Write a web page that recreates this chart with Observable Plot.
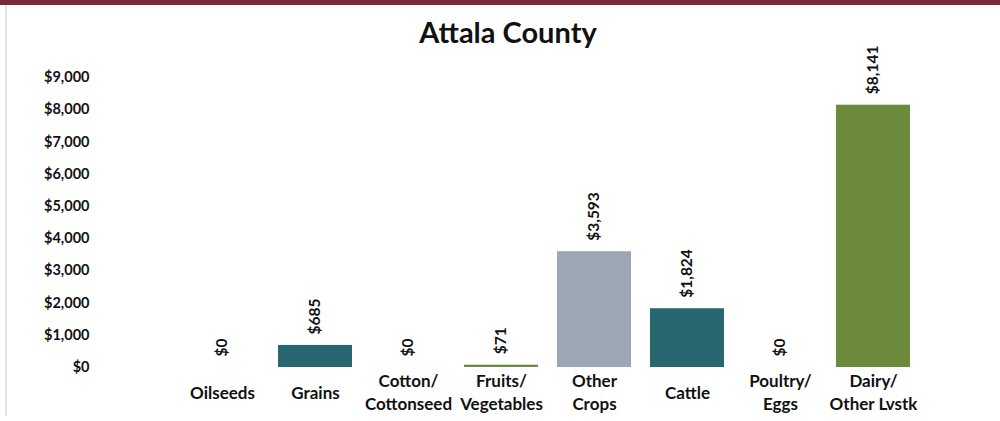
<!DOCTYPE html>
<html>
<head>
<meta charset="utf-8">
<script src="https://cdn.jsdelivr.net/npm/d3@7"></script>
<script src="https://cdn.jsdelivr.net/npm/@observablehq/plot@0.6"></script>
<style>
  html, body { margin: 0; padding: 0; background: #fff; }
  #wrap { position: relative; width: 1000px; height: 421px; overflow: hidden; }
  #topbar { position: absolute; left: 0; top: 0; width: 1000px; height: 5px; background: #7a2a3c; }
  #leftline { position: absolute; left: 5px; top: 5px; width: 2px; height: 411px; background: #e4e4e4; }
  #title { position: absolute; left: 0; top: 13px; width: 1016px; text-align: center;
           font-family: Lato, "Open Sans", sans-serif; font-weight: bold; font-size: 29px; color: #111; line-height: 38px; }
  #chart { position: absolute; left: 0; top: 55px; }
  #chart svg { overflow: visible; }
</style>
</head>
<body>
<div id="wrap">
  <div id="topbar"></div>
  <div id="leftline"></div>
  <div id="title">Attala County</div>
  <div id="chart"></div>
</div>
<script>
const categories = ["Oilseeds", "Grains", "Cotton/\nCottonseed", "Fruits/\nVegetables", "Other\nCrops", "Cattle", "Poultry/\nEggs", "Dairy/\nOther Lvstk"];
const values = [0, 685, 0, 71, 3593, 1824, 0, 8141];
const colors = ["#6b8a3c", "#28676f", "#6b8a3c", "#6b8a3c", "#9ba7b2", "#28676f", "#6b8a3c", "#6b8a3c"];
const yTicks = [0, 1000, 2000, 3000, 4000, 5000, 6000, 7000, 8000, 9000];

const data = categories.map((c, i) => ({category: c, value: values[i], color: colors[i]}));
const money = d => "$" + d3.format(",")(d);

const chart = Plot.plot({
  width: 1000,
  height: 366,
  marginLeft: 175,
  marginRight: 79,
  marginTop: 22,
  marginBottom: 54,
  style: {fontFamily: "Lato, 'Open Sans', sans-serif", color: "#111", background: "transparent", overflow: "visible"},
  x: {domain: categories, paddingInner: 0.2, paddingOuter: 0.1, axis: null},
  y: {domain: [0, 9000], axis: null},
  marks: [
    Plot.axisY(yTicks, {tickSize: 0, tickPadding: 86, tickFormat: money, fontWeight: "bold", fontSize: 14.5, label: null}),
    Plot.barY(data, {x: "category", y: "value", fill: "color"}),
    Plot.text(data, {x: "category", y: "value", text: d => money(d.value), rotate: -90, textAnchor: "start",
                     dy: -11, fontWeight: "bold", fontSize: 15.5, fill: "#111"}),
    Plot.text(data, {x: "category", y: 0, text: "category", dy: 24, lineAnchor: "middle", lineHeight: 1.35,
                     fontWeight: "bold", fontSize: 17, fill: "#111"})
  ]
});
document.getElementById("chart").appendChild(chart);
</script>
</body>
</html>
